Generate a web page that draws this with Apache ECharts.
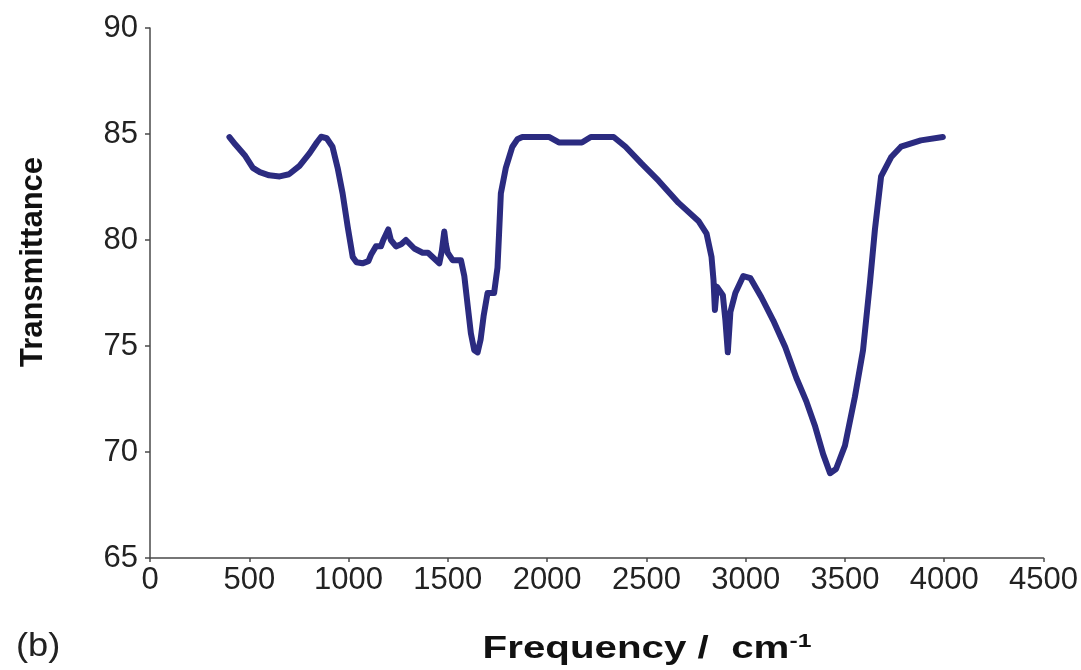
<!DOCTYPE html>
<html>
<head>
<meta charset="utf-8">
<script src="https://cdn.jsdelivr.net/npm/echarts@6/dist/echarts.min.js"></script>
<style>
html,body{margin:0;padding:0;background:#fff;}
#c{width:1081px;height:670px;}
</style>
</head>
<body>
<div id="c"></div>
<script>
const frequency = [400,430,477,518,553,600,653,700,753,804,840,862,890,919,945,970,996,1021,1040,1070,1100,1113,1138,1163,1175,1200,1213,1239,1265,1289,1310,1331,1373,1400,1423,1457,1470,1482,1490,1499,1524,1566,1583,1600,1616,1633,1650,1665,1680,1700,1733,1750,1758,1767,1792,1825,1850,1875,2009,2059,2100,2175,2220,2335,2395,2476,2561,2662,2762,2803,2828,2838,2845,2855,2870,2885,2898,2910,2923,2948,2988,3024,3079,3139,3199,3255,3305,3350,3390,3425,3455,3500,3550,3591,3626,3651,3682,3732,3782,3882,3993];
const transmittance = [84.85,84.5,84.0,83.4,83.2,83.05,83.0,83.1,83.5,84.1,84.6,84.87,84.8,84.4,83.4,82.2,80.6,79.2,78.95,78.9,79.0,79.3,79.7,79.7,80.0,80.5,80.0,79.7,79.8,80.0,79.8,79.6,79.4,79.4,79.2,78.9,79.5,80.4,79.8,79.4,79.05,79.05,78.3,76.9,75.6,74.8,74.7,75.3,76.4,77.5,77.5,78.7,80.3,82.2,83.4,84.4,84.75,84.86,84.86,84.6,84.6,84.6,84.86,84.86,84.4,83.6,82.8,81.75,80.9,80.3,79.2,78.1,76.7,77.8,77.6,77.4,76.2,74.7,76.6,77.5,78.3,78.2,77.3,76.2,74.95,73.5,72.4,71.2,69.9,69.0,69.2,70.3,72.6,74.8,78.0,80.5,83.0,83.9,84.4,84.7,84.86];
const xTicks = {min:0, max:4500, step:500};
const yTicks = {min:65, max:90, step:5};
const yTitle = 'Transmittance';
const xTitle = 'Frequency /  cm';
const xTitleSup = '-1';
const panelLabel = '(b)';

const chart = echarts.init(document.getElementById('c'), null, {renderer:'canvas'});
const font = '"Liberation Sans", Arial, Helvetica, sans-serif';
const axisLineStyle = {color:'#4a4a4a', width:1.5};
chart.setOption({
  animation:false,
  backgroundColor:'#ffffff',
  grid:{left:150, right:35, top:28, bottom:112, containLabel:false},
  xAxis:{
    type:'value', min:xTicks.min, max:xTicks.max, interval:xTicks.step,
    axisLine:{show:true, onZero:false, lineStyle:axisLineStyle},
    axisTick:{show:true, length:4, inside:false, lineStyle:axisLineStyle},
    axisLabel:{fontSize:31, color:'#222', fontFamily:font, margin:7, formatter:v=>String(v)},
    splitLine:{show:false}
  },
  yAxis:{
    type:'value', min:yTicks.min, max:yTicks.max, interval:yTicks.step,
    axisLine:{show:true, onZero:false, lineStyle:axisLineStyle},
    axisTick:{show:true, length:5, inside:false, lineStyle:axisLineStyle},
    axisLabel:{fontSize:31, color:'#222', fontFamily:font, margin:12, formatter:v=>String(v)},
    splitLine:{show:false}
  },
  series:[{
    type:'line',
    data: frequency.map((f,i)=>[f, transmittance[i]]),
    showSymbol:false,
    smooth:false,
    lineStyle:{color:'#2b2b80', width:6, join:'round', cap:'round'},
    itemStyle:{color:'#2b2b80'}
  }],
  graphic:[
    {type:'text', x:33, y:262, rotation:Math.PI/2,
      style:{text:yTitle, fontSize:31, fontWeight:'bold', fontFamily:font, fill:'#111',
        textAlign:'center', textVerticalAlign:'middle'}},
    {type:'text', x:647, y:649, scaleX:1.3,
      style:{text:xTitle + '{sup|' + xTitleSup + '}', fontSize:31, fontWeight:'bold', fontFamily:font, fill:'#111',
        textAlign:'center', textVerticalAlign:'middle',
        rich:{sup:{fontSize:19, fontWeight:'bold', fontFamily:font, fill:'#111', padding:[0,0,14,0]}}}},
    {type:'text', x:16, y:647, scaleX:1.1,
      style:{text:panelLabel, fontSize:33, fontFamily:font, fill:'#222',
        textAlign:'left', textVerticalAlign:'middle'}}
  ]
});
</script>
</body>
</html>
